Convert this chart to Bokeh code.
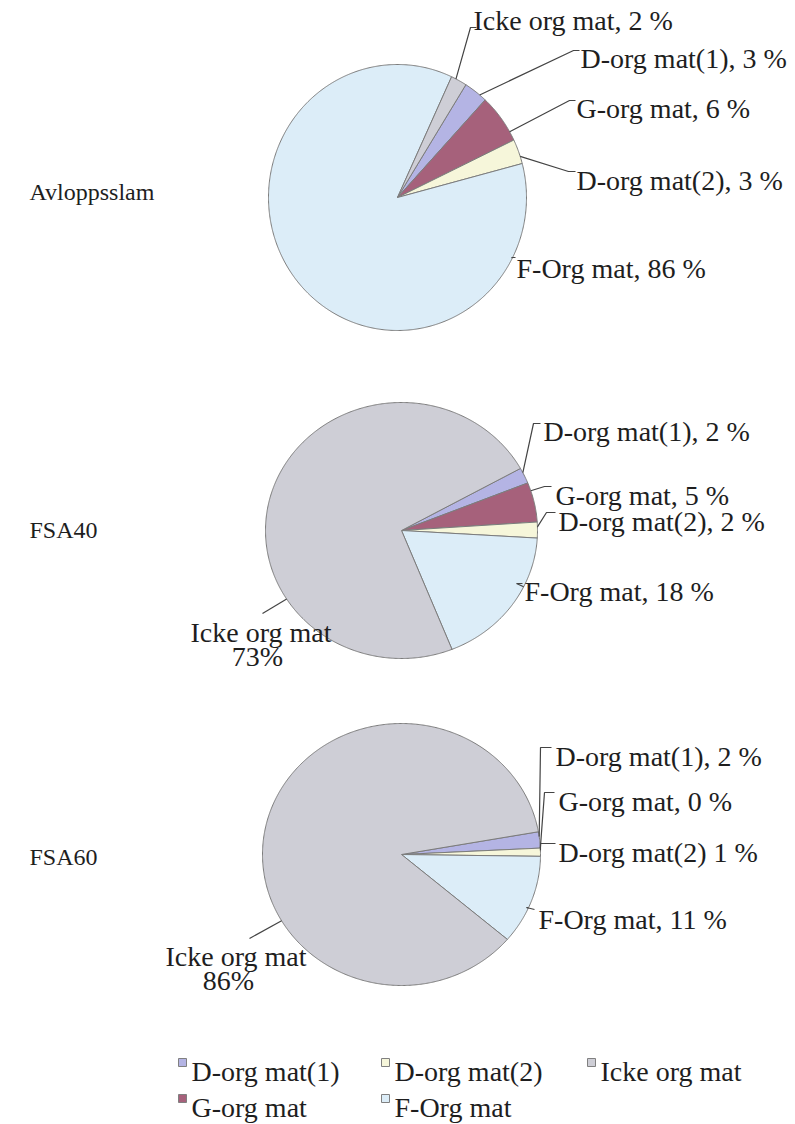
import math
import numpy as np
from bokeh.plotting import figure
from bokeh.models import Range1d
from bokeh.embed import file_html
from bokeh.resources import INLINE
from bokeh.core.properties import value

# ---------------- data ----------------
categories = ["D-org mat(1)", "G-org mat", "D-org mat(2)", "F-Org mat", "Icke org mat"]
pie_titles = ["Avloppsslam", "FSA40", "FSA60"]
avloppsslam = [3, 6, 3, 86, 2]
fsa40 = [2, 5, 2, 18, 73]
fsa60 = [2, 0, 1, 11, 86]
series = [avloppsslam, fsa40, fsa60]

# data-label text formats (per pie, per category)
label_formats = [
    ["{c}, {v} %", "{c}, {v} %", "{c}, {v} %", "{c}, {v} %", "{c}, {v} %"],
    ["{c}, {v} %", "{c}, {v} %", "{c}, {v} %", "{c}, {v} %", "{c}\n{v}%"],
    ["{c}, {v} %", "{c}, {v} %", "{c} {v} %", "{c}, {v} %", "{c}\n{v}%"],
]

# ---------------- styles / layout ----------------
colors = ["#B4B4E4", "#A6617B", "#F6F6DA", "#DCEDF8", "#CECED6"]
PAGE_W, PAGE_H = 795, 1124
FONT = "Liberation Serif"
FS = "28px"
TITLE_FS = "24px"
TEXT_COL = "#1e1e1e"
centers = [(397, 197), (401, 530), (401, 854)]
radii = [(129, 133), (136, 128), (139, 131)]     # (rx, ry) in pixels
first_angle = [32, 61, 80]          # clockwise from 12 o'clock (degrees)
title_pos = [(29, 191), (29, 529), (29, 856)]
second_line_dy = 24
# per pie, per category: text x, text baseline y, elbow x, elbow y, end x, end y, 2nd-line centre x
label_layout = [
    [(580, 58, 573, 50, 579, 50, None),
     (576, 108, 569, 100, 575, 100, None),
     (576, 180, 568, 171, 575, 171, None),
     (516, 268, 511, 257, 515, 257, None),
     (473, 20, 470, 27, 476, 27, None)],
    [(543, 431, 533, 423, 540, 423, None),
     (555, 495, 544, 486, 551, 486, None),
     (558, 521, 546, 512, 555, 512, None),
     (524, 591, 516, 583, 522, 583, None),
     (190, 632, 262, 613, 262, 613, 257)],
    [(555, 756, 540, 747, 551, 747, None),
     (558, 801, 544, 792, 554, 792, None),
     (558, 852, 540, 843, 555, 843, None),
     (538, 919, 526, 907, 534, 909, None),
     (165, 956, 249, 938, 249, 938, 228)],
]
legend_cols_x = [178, 381, 587]
legend_text_dx = 13
legend_rows_y = [1071, 1107]
legend_sq = 8


def Y(py):
    return PAGE_H - py


p = figure(width=PAGE_W, height=PAGE_H, x_range=Range1d(0, PAGE_W),
           y_range=Range1d(0, PAGE_H), output_backend="svg", toolbar_location=None,
           min_border=0)
p.axis.visible = False
p.grid.visible = False
p.outline_line_color = None
p.background_fill_color = "white"
p.border_fill_color = "white"

for k, vals in enumerate(series):
    cx, cy = centers[k]
    rx, ry = radii[k]
    total = float(sum(vals))
    th = first_angle[k]
    spans = []
    pxs, pys, pcol = [], [], []
    for i, v in enumerate(vals):
        span = 360.0 * v / total
        spans.append((th, th + span))
        if v > 0:
            n = max(4, int(span * 2))
            t = np.radians(np.linspace(th, th + span, n))
            xs = np.concatenate([[cx], cx + rx * np.sin(t), [cx]])
            ys = np.concatenate([[cy], cy - ry * np.cos(t), [cy]])
            pxs.append(list(xs))
            pys.append([Y(q) for q in ys])
            pcol.append(colors[i])
        th += span
    p.patches(xs=pxs, ys=pys, fill_color=pcol, line_color="#7c7c7c", line_width=1)

    # labels + leader lines
    xs_l, ys_l = [], []
    for i, v in enumerate(vals):
        tx, ty, ex, ey, fx, fy, c2 = label_layout[k][i]
        s, e = spans[i]
        m = min(0.3 * (e - s), 4.0)
        d = math.degrees(math.atan2((ex - cx) / rx, -(ey - cy) / ry)) % 360
        while d < s:
            d += 360
        lo, hi = s + m, e - m
        if d > hi:
            d = hi if (d - hi) < (lo + 360 - d) else lo
        ax = cx + rx * math.sin(math.radians(d))
        ay = cy - ry * math.cos(math.radians(d))
        px = [ax, ex]
        py = [Y(ay), Y(ey)]
        if (fx, fy) != (ex, ey):
            px.append(fx)
            py.append(Y(fy))
        xs_l.append(px)
        ys_l.append(py)

        txt = label_formats[k][i].format(c=categories[i], v=v)
        lines = txt.split("\n")
        p.text(x=[tx], y=[Y(ty)], text=[lines[0]], text_font=value(FONT),
               text_font_size=FS, text_baseline="alphabetic", text_align="left",
               text_color=TEXT_COL)
        if len(lines) > 1:
            p.text(x=[c2], y=[Y(ty + second_line_dy)], text=[lines[1]],
                   text_font=value(FONT), text_font_size=FS,
                   text_baseline="alphabetic", text_align="center",
                   text_color=TEXT_COL)
    p.multi_line(xs=xs_l, ys=ys_l, line_color="#444444", line_width=1.2)

    # category title
    tx, ty = title_pos[k]
    p.text(x=[tx], y=[Y(ty)], text=[pie_titles[k]], text_font=value(FONT),
           text_font_size=TITLE_FS, text_baseline="alphabetic", text_align="left",
           text_color=TEXT_COL)

# legend (column-major, 2 rows)
for i, c in enumerate(categories):
    col, row = i // 2, i % 2
    x0 = legend_cols_x[col]
    yb = legend_rows_y[row]
    p.rect(x=[x0 + legend_sq / 2], y=[Y(yb - 9)], width=legend_sq, height=legend_sq,
           fill_color=colors[i], line_color="#808080", line_width=1)
    p.text(x=[x0 + legend_text_dx], y=[Y(yb)], text=[c], text_font=value(FONT),
           text_font_size=FS, text_baseline="alphabetic", text_align="left",
           text_color=TEXT_COL)

open("out.html", "w").write(file_html(p, INLINE))
